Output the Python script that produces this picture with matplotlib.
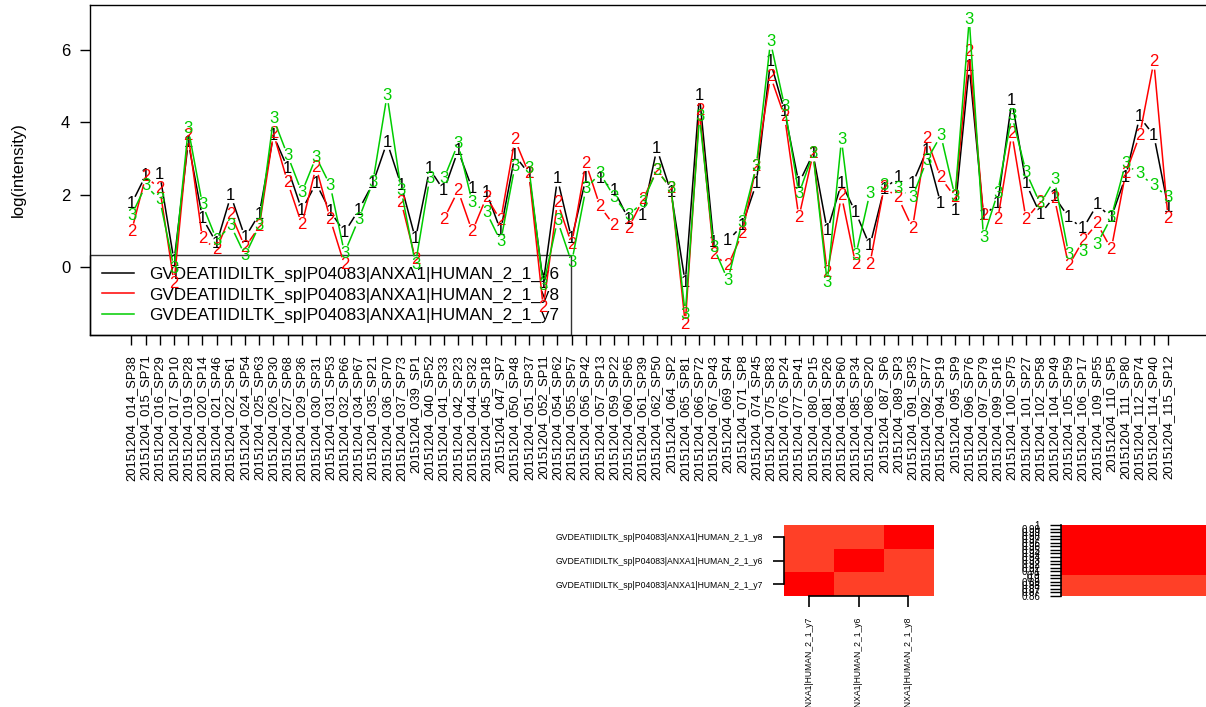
import numpy as np
import matplotlib
matplotlib.use("Agg")
import matplotlib.pyplot as plt
from matplotlib.lines import Line2D
from matplotlib.colors import ListedColormap, BoundaryNorm

plt.rcParams['font.family'] = ['Liberation Sans', 'DejaVu Sans']

NA = np.nan

# ---------------- data ----------------
samples = [
    "20151204_014_SP38", "20151204_015_SP71", "20151204_016_SP29", "20151204_017_SP10",
    "20151204_019_SP28", "20151204_020_SP14", "20151204_021_SP46", "20151204_022_SP61",
    "20151204_024_SP54", "20151204_025_SP63", "20151204_026_SP30", "20151204_027_SP68",
    "20151204_029_SP36", "20151204_030_SP31", "20151204_031_SP53", "20151204_032_SP66",
    "20151204_034_SP67", "20151204_035_SP21", "20151204_036_SP70", "20151204_037_SP73",
    "20151204_039_SP1", "20151204_040_SP52", "20151204_041_SP33", "20151204_042_SP23",
    "20151204_044_SP32", "20151204_045_SP18", "20151204_047_SP7", "20151204_050_SP48",
    "20151204_051_SP37", "20151204_052_SP11", "20151204_054_SP62", "20151204_055_SP57",
    "20151204_056_SP42", "20151204_057_SP13", "20151204_059_SP22", "20151204_060_SP65",
    "20151204_061_SP39", "20151204_062_SP50", "20151204_064_SP2", "20151204_065_SP81",
    "20151204_066_SP72", "20151204_067_SP43", "20151204_069_SP4", "20151204_071_SP8",
    "20151204_074_SP45", "20151204_075_SP83", "20151204_076_SP24", "20151204_077_SP41",
    "20151204_080_SP15", "20151204_081_SP26", "20151204_084_SP60", "20151204_085_SP34",
    "20151204_086_SP20", "20151204_087_SP6", "20151204_089_SP3", "20151204_091_SP35",
    "20151204_092_SP77", "20151204_094_SP19", "20151204_095_SP9", "20151204_096_SP76",
    "20151204_097_SP79", "20151204_099_SP16", "20151204_100_SP75", "20151204_101_SP27",
    "20151204_102_SP58", "20151204_104_SP49", "20151204_105_SP59", "20151204_106_SP17",
    "20151204_109_SP55", "20151204_110_SP5", "20151204_111_SP80", "20151204_112_SP74",
    "20151204_114_SP40", "20151204_115_SP12",
]

y6 = [1.74, 2.53, 2.56, 0.15, 3.45, 1.35, 0.65, 1.97, 0.81, 1.46,
      3.64, 2.73, 1.57, 2.31, 1.54, 0.95, 1.57, 2.31, 3.45, 2.25,
      0.77, 2.71, 2.11, 3.22, 2.16, 2.06, 1.00, 3.08, 2.57, -0.45,
      2.44, 0.77, 2.44, 2.44, 2.11, 1.32, 1.42, 3.27, 2.06, -0.44,
      4.75, 0.68, 0.72, 1.14, 2.30, 5.68, 4.30, 2.31, 3.13, 1.00,
      2.31, 1.51, 0.58, 2.15, 2.48, 2.30, 3.22, 1.74, 1.57, 5.54,
      1.42, 1.74, 4.61, 2.30, 1.46, 1.94, 1.37, 1.05, 1.72, 1.37,
      2.48, 4.15, 3.64, 1.65]

y8 = [0.98, 2.50, 2.16, -0.45, 3.64, 0.77, 0.49, 1.46, 0.54, 1.11,
      3.69, 2.34, 1.17, 2.76, 1.32, 0.05, NA, NA, NA, 1.79,
      0.21, NA, 1.32, 2.11, 0.98, 1.93, 1.28, 3.52, 2.57, -1.13,
      1.79, 0.63, 2.87, 1.67, 1.14, 1.07, 1.85, 2.67, 2.17, -1.59,
      4.33, 0.35, 0.03, 0.91, 2.78, 5.28, 4.15, 1.37, 3.13, -0.16,
      1.97, 0.07, 0.07, 2.20, 1.91, 1.07, 3.55, 2.46, 1.93, 5.95,
      1.42, 1.30, 3.69, 1.32, 1.79, 1.90, 0.03, 0.72, 1.20, 0.49,
      2.57, 3.64, 5.68, 1.35]

y7 = [1.42, 2.25, 1.85, -0.05, 3.82, 1.72, 0.74, 1.14, 0.31, 1.14,
      4.10, 3.08, 2.06, 3.04, 2.25, 0.38, 1.32, 2.34, 4.75, 2.11,
      0.07, 2.44, 2.44, 3.41, 1.79, 1.51, 0.70, 2.78, 2.71, -0.53,
      1.28, 0.12, 2.16, 2.59, 1.93, 1.42, 1.79, 2.67, 2.17, -1.31,
      4.15, 0.54, -0.37, 1.23, 2.78, 6.23, 4.43, 2.02, 3.13, -0.44,
      3.52, 0.31, 2.04, 2.25, 2.16, 1.93, 2.94, 3.64, 1.94, 6.86,
      0.81, 2.04, 4.19, 2.62, 1.74, 2.41, 0.35, 0.43, 0.63, 1.37,
      2.85, 2.57, 2.25, 1.93]

prefix = "GVDEATIIDILTK_sp|P04083|ANXA1|HUMAN_2_1_"
series_names = [prefix + "y6", prefix + "y8", prefix + "y7"]
series_values = [y6, y8, y7]
series_symbols = ["1", "2", "3"]
series_colors = ["#000000", "#FF0000", "#00CD00"]

yticks = [0, 2, 4, 6]

# correlation heatmap (order: y6, y8, y7)
cor_names = ["y6", "y8", "y7"]
cor_matrix = [[1.00, 0.89, 0.88],
              [0.89, 1.00, 0.87],
              [0.88, 0.87, 1.00]]
heat_rows = ["y8", "y6", "y7"]   # top to bottom
heat_cols = ["y7", "y6", "y8"]   # left to right

cbar_ticks = [0.86, 0.867, 0.874, 0.881, 0.888, 0.895, 0.902, 0.909, 0.916, 0.923,
              0.93, 0.937, 0.944, 0.951, 0.958, 0.965, 0.972, 0.979, 0.986, 0.993, 1.0]
cbar_labels = ["0.86", "0.87", "0.87", "0.88", "0.89", "0.9", "0.9", "0.91", "0.92", "0.92",
               "0.93", "0.94", "0.94", "0.95", "0.96", "0.96", "0.97", "0.98", "0.99", "0.99", "1"]

# ---------------- figure ----------------
W, H = 1206, 707
fig = plt.figure(figsize=(W / 100, H / 100), dpi=100)

x = np.arange(1, len(samples) + 1)
xlim = (-1.92, 76.92)
px_per_x = 14.2
ax = fig.add_axes([90 / W, (H - 335) / H, (xlim[1] - xlim[0]) * px_per_x / W, 330 / H])
ax.set_xlim(*xlim)
ax.set_ylim(-1.89, 7.25)

for s in ax.spines.values():
    s.set_linewidth(1.0)

ax.set_xticks(x)
ax.set_xticklabels(samples, rotation=90, fontsize=9.4, va="top", ha="center")
ax.set_yticks(yticks)
ax.set_yticklabels([str(v) for v in yticks], fontsize=12)
ax.tick_params(axis="both", direction="out", length=7.2, width=1.0, pad=7)
fig.text(18 / W, 1 - 170 / H, "log(intensity)", rotation=90, ha="center", va="center", fontsize=12)


def gapped_lines(ax, xs, ys, color, z, r=8.0):
    pts = ax.transData.transform(np.column_stack([xs, ys]))
    inv = ax.transData.inverted()
    for p0, p1 in zip(pts[:-1], pts[1:]):
        if not (np.all(np.isfinite(p0)) and np.all(np.isfinite(p1))):
            continue
        d = p1 - p0
        L = np.hypot(d[0], d[1])
        if L <= 2 * r:
            continue
        u = d / L
        a = inv.transform(p0 + u * r)
        b = inv.transform(p1 - u * r)
        ax.plot([a[0], b[0]], [a[1], b[1]], color=color, lw=1.1, zorder=z,
                solid_capstyle="butt")


for k, (vals, sym, col) in enumerate(zip(series_values, series_symbols, series_colors)):
    z = 3 + k
    vals = np.asarray(vals, dtype=float)
    gapped_lines(ax, x, vals, col, z)
    for xi, yi in zip(x, vals):
        if np.isfinite(yi):
            ax.text(xi, yi, sym, color=col, fontsize=12, ha="center", va="center", zorder=z)

handles = [Line2D([], [], color=c, lw=1.1) for c in series_colors]
leg = ax.legend(handles, series_names, loc="lower left", bbox_to_anchor=(0, 0),
                borderaxespad=0, fontsize=12.3, frameon=True, fancybox=False,
                edgecolor="black", facecolor="none", framealpha=None, handlelength=1.87,
                handletextpad=0.88, borderpad=0.7, labelspacing=0.31)
leg.get_frame().set_linewidth(1.0)
leg.set_zorder(2)

# ---------------- heatmap ----------------
cmap = ListedColormap(["#FF4027", "#FF0000"])
cmap.set_under("#FF4027")
norm = BoundaryNorm([0.0, 0.905, 1.01], 2)

mat = np.array([[cor_matrix[cor_names.index(r)][cor_names.index(c)] for c in heat_cols]
                for r in heat_rows])
hax = fig.add_axes([784 / W, (H - 596) / H, 149 / W, 71 / H])
hax.imshow(mat, cmap=cmap, norm=norm, aspect="auto", interpolation="nearest")
hax.set_xticks(range(len(heat_cols)))
hax.set_xticklabels([prefix + c for c in heat_cols], rotation=90, fontsize=6.25,
                    va="top", ha="center")
hax.set_yticks(range(len(heat_rows)))
hax.set_yticklabels([prefix + r for r in heat_rows], fontsize=6.25)
hax.spines["top"].set_visible(False)
hax.spines["right"].set_visible(False)
hax.spines["left"].set_bounds(0, len(heat_rows) - 1)
hax.spines["bottom"].set_bounds(0, len(heat_cols) - 1)
for sp in ("left", "bottom"):
    hax.spines[sp].set_linewidth(1.2)
hax.tick_params(direction="out", length=8, width=1.2, pad=7)

# ---------------- colour key ----------------
cax = fig.add_axes([1061 / W, (H - 596) / H, 160 / W, 71 / H])
edges = np.array(cbar_ticks)
mids = (edges[:-1] + edges[1:]) / 2
cax.pcolormesh([0, 1], edges, mids.reshape(-1, 1), cmap=cmap, norm=norm)
cax.set_xlim(0, 1)
cax.set_ylim(cbar_ticks[0], cbar_ticks[-1])
cax.set_xticks([])
cax.set_yticks(cbar_ticks)
cax.set_yticklabels(cbar_labels, fontsize=7)
for sp in ("top", "right", "bottom"):
    cax.spines[sp].set_visible(False)
cax.spines["left"].set_linewidth(1.2)
cax.tick_params(axis="y", direction="out", length=8, width=1.0, pad=7)

fig.savefig("out.png", dpi=100)
